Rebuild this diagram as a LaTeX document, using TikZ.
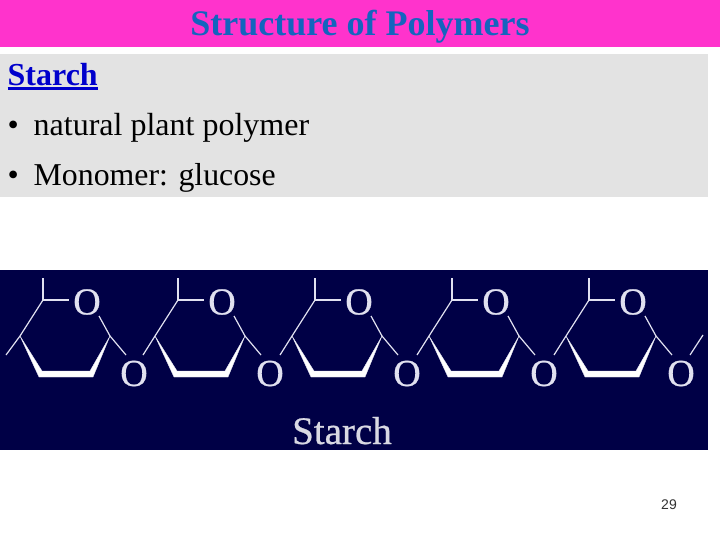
\documentclass[tikz,border=0pt]{standalone}
\usepackage{fontspec}
\setmainfont{Liberation Serif}
\newfontfamily\arialf{Liberation Sans}
\newfontfamily\heavyf[FakeBold=0.6]{Liberation Serif}
\definecolor{titlebg}{RGB}{255,51,204}
\definecolor{titlefg}{RGB}{20,100,190}
\definecolor{panelbg}{RGB}{227,227,227}
\definecolor{linkblue}{RGB}{0,0,204}
\definecolor{navy}{RGB}{0,0,70}
\definecolor{bond}{RGB}{225,225,240}
\tikzset{
  atom/.style={inner sep=0pt,text=bond,font=\heavyf\fontsize{38}{38}\selectfont},
  bondline/.style={draw=bond,line width=1.2pt},
  wedgefill/.style={fill=white,draw=bond,line width=0.4pt,line join=round},
  bullettext/.style={anchor=base west,inner sep=0pt,text=black,font=\fontsize{32}{32}\selectfont},
}
\newcommand{\sugarring}[2]{%
  \begin{scope}[xshift=#1pt]
    \coordinate (top#2) at (43,300);
    \coordinate (stem#2) at (43,278);
    \coordinate (lc#2) at (20,336);
    \coordinate (rc#2) at (110,336);
    \node[atom] (ro#2) at (87,302) {O};
    \draw[bondline] (stem#2) -- (top#2) -- (69,300);
    \draw[bondline] (top#2) -- (lc#2);
    \draw[bondline] (99,316) -- (rc#2) -- (126,355);
    \draw[wedgefill] (lc#2) -- (42,371) -- (90,371) -- (rc#2) -- (93,377) -- (39,377) -- cycle;
  \end{scope}}
\begin{document}
\begin{tikzpicture}[x=1pt,y=-1pt]
\useasboundingbox (0,0) rectangle (720,540);
\fill[white] (0,0) rectangle (720,540);
\fill[titlebg] (0,0) rectangle (720,47);
\fill[panelbg] (0,54) rectangle (708,197);
\fill[navy] (0,270) rectangle (708,450);
\node[anchor=base,inner sep=0pt,text=titlefg,font=\fontsize{36}{36}\selectfont\bfseries] (title) at (360,35.7) {Structure of Polymers};
\node[anchor=base west,inner sep=0pt,text=linkblue,font=\fontsize{32}{32}\selectfont\bfseries] (head) at (7.5,85.7) {Starch};
\draw[linkblue,line width=2.4pt] (7.5,88.6) -- (97.5,88.6);
\node[bullettext] (b1) at (7.5,135.7) {•};
\node[bullettext] (t1) at (33.5,135.7) {natural plant polymer};
\node[bullettext] (b2) at (7.5,185.7) {•};
\node[bullettext,font=\fontsize{31.8}{32}\selectfont] (t2) at (33.5,185.7) {Monomer: glucose};
\sugarring{0}{a}
\sugarring{135}{b}
\sugarring{272}{c}
\sugarring{409}{d}
\sugarring{546}{e}
\draw[bondline] (lca) -- (6,355);
\node[atom] (oa) at (134,373.5) {O};
\node[atom] (ob) at (270,373.5) {O};
\node[atom] (oc) at (407,373.5) {O};
\node[atom] (od) at (544,373.5) {O};
\node[atom] (oe) at (681,373.5) {O};
\draw[bondline] (143,355) -- (lcb);
\draw[bondline] (280,355) -- (lcc);
\draw[bondline] (417,355) -- (lcd);
\draw[bondline] (554,355) -- (lce);
\coordinate (tail) at (703,335);
\draw[bondline] (690,355) -- (tail);
\node[anchor=base,inner sep=0pt,text=white!85!navy,font=\heavyf\fontsize{39}{39}\selectfont] (label) at (342,444) {Starch};
\node[anchor=base,inner sep=0pt,text=black!80,font=\arialf\fontsize{14}{14}\selectfont] (page) at (669,509) {29};
\end{tikzpicture}
\end{document}
